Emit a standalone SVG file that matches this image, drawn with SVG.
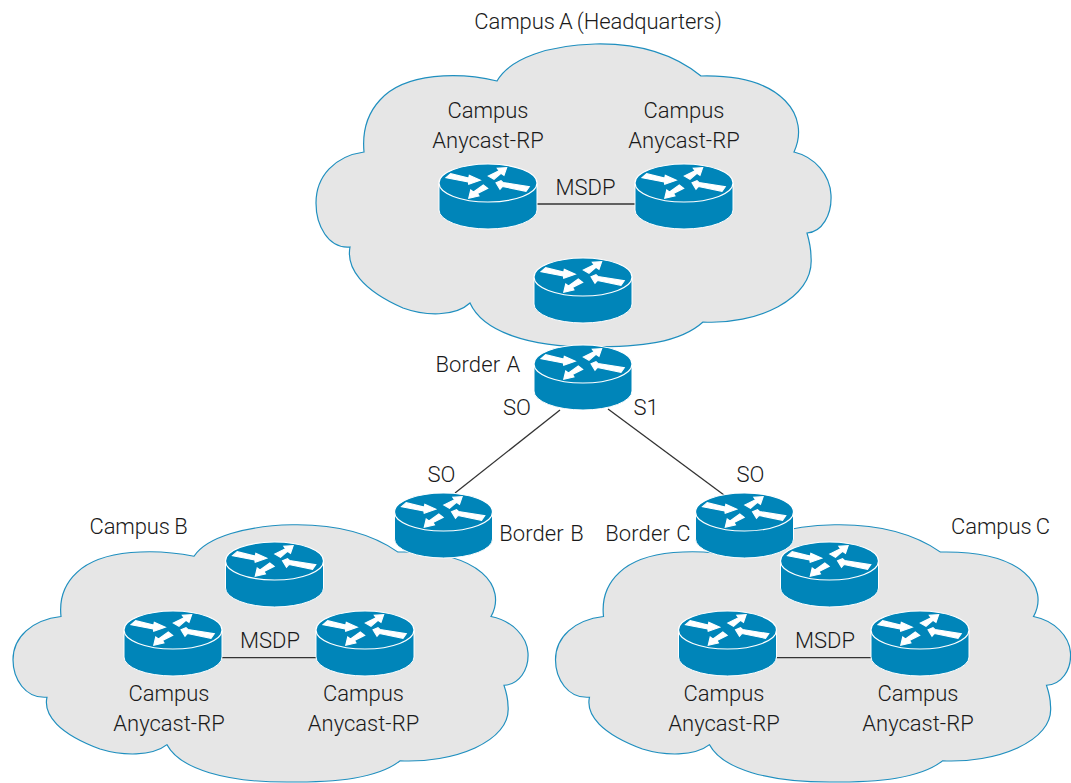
<svg xmlns="http://www.w3.org/2000/svg" xmlns:xlink="http://www.w3.org/1999/xlink" width="1071" height="783" viewBox="0 0 1071 783">
<style>
text{font-family:"Roboto","Liberation Sans",sans-serif;font-size:22px;font-weight:300;fill:#1a1a1a;text-anchor:middle}
.title{word-spacing:-1px;letter-spacing:-.1px}
.border{word-spacing:1px;letter-spacing:.1px}
.cloud{fill:#e6e6e6;stroke:#1f8fbf;stroke-width:1.2;vector-effect:non-scaling-stroke}
.link{stroke:#333;stroke-width:1.3;fill:none}
.body{fill:#0085b9;stroke:#fff;stroke-width:1}
.top{fill:#0085b9;stroke:#fff;stroke-width:1.2}
.arr{fill:#fff;stroke:#fff;stroke-width:1.1;stroke-linejoin:miter}
</style>
<defs>
<path id="cloudShape" d="M497 81C460 72 405 72 380 100C368 113 362 130 364 152C335 156 316 176 316 203C316 225 328 249 350 247C346 268 362 290 403 308C425 316 455 317 470 303C483 332 530 347 590 347C640 347 680 343 703 322C755 325 815 300 811 257C811 248 809 240 807 233C822 232 832 215 831 195C830 175 815 157 794 152C810 118 785 74 701 76C675 55 640 43 595 44C550 45 510 58 497 81Z"/>
<g id="router">
<path class="body" d="M-49 0V27A49 19 0 0 0 49 27V0Z"/>
<ellipse class="top" cx="0" cy="0" rx="49" ry="19"/>
<path class="arr" d="M-42-5.3L-37.3-9.3L-19.3-5L-18.7-7.7L-7.7-2.7L-19.3 1.3L-19.7-1Z"/>
<path class="arr" d="M.3-7L6-3.7L13-9.7L16-7.7L18.7-15.3L9.3-14.7L11-12.3Z"/>
<path class="arr" d="M41.3 3.7L38 8.3L14.5 3.5L12 6.3L8-.3L13-2.3L15-.5Z"/>
<path class="arr" d="M-19.3 15.3L-17.3 7L-14.5 9L-4.7 2L-.3 5.3L-10.5 10.5L-9 13Z"/>
</g>
</defs>
<g id="clouds">
<use id="cloud-a" href="#cloudShape" class="cloud"/>
<use id="cloud-b" href="#cloudShape" class="cloud" transform="translate(-303 487.5) scale(1 .849)"/>
<use id="cloud-c" href="#cloudShape" class="cloud" transform="translate(239.5 487.5) scale(1 .849)"/>
</g>
<g id="connectors">
<line class="link" x1="537" y1="204" x2="635" y2="204"/>
<line class="link" x1="222" y1="657.7" x2="316" y2="657.7"/>
<line class="link" x1="777" y1="657.7" x2="871" y2="657.7"/>
<line class="link" x1="560" y1="410" x2="455" y2="493"/>
<line class="link" x1="608" y1="409" x2="724" y2="495"/>
</g>
<g id="a1"><use href="#router" x="488" y="183"/><text x="488" y="118">Campus</text><text x="488" y="148">Anycast-RP</text></g>
<g id="a2"><use href="#router" x="684" y="183"/><text x="684" y="118">Campus</text><text x="684" y="148">Anycast-RP</text></g>
<g id="a3"><use href="#router" x="583" y="277"/></g>
<g id="border-a"><use href="#router" x="583" y="364"/><text class="border" x="478" y="372">Border A</text></g>
<g id="border-b"><use href="#router" x="443.5" y="512"/><text class="border" x="541.5" y="541">Border B</text></g>
<g id="border-c"><use href="#router" x="744.5" y="512"/><text class="border" x="648" y="541">Border C</text></g>
<g id="b3"><use href="#router" x="274.5" y="561"/></g>
<g id="b1"><use href="#router" x="173" y="630"/><text x="169" y="701">Campus</text><text x="169" y="731">Anycast-RP</text></g>
<g id="b2"><use href="#router" x="365" y="630"/><text x="363.5" y="701">Campus</text><text x="363.5" y="731">Anycast-RP</text></g>
<g id="c3"><use href="#router" x="829.5" y="561"/></g>
<g id="c1"><use href="#router" x="727.5" y="630"/><text x="724" y="701">Campus</text><text x="724" y="731">Anycast-RP</text></g>
<g id="c2"><use href="#router" x="920" y="630"/><text x="918" y="701">Campus</text><text x="918" y="731">Anycast-RP</text></g>
<g id="labels">
<text class="title" x="598" y="29">Campus A (Headquarters)</text>
<text class="title" x="138.5" y="534">Campus B</text>
<text class="title" x="1000.5" y="534">Campus C</text>
<text x="585.5" y="195">MSDP</text>
<text x="270" y="648">MSDP</text>
<text x="825" y="648">MSDP</text>
<text x="517" y="415">SO</text>
<text x="646" y="415">S1</text>
<text x="441.5" y="482">SO</text>
<text x="750.5" y="482">SO</text>
</g>
</svg>
